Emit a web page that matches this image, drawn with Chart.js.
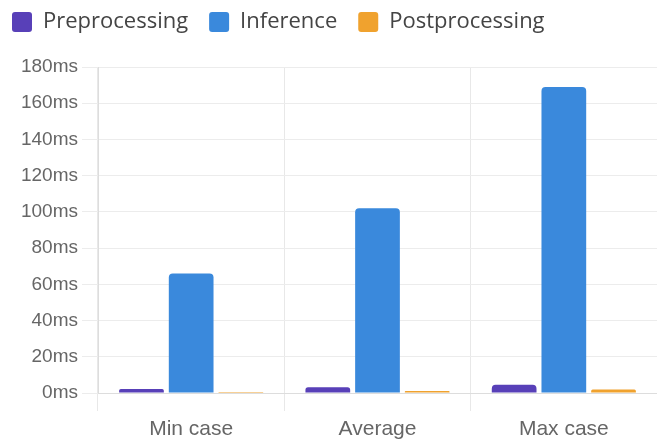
<!DOCTYPE html>
<html><head><meta charset="utf-8">
<script src="https://cdn.jsdelivr.net/npm/chart.js@4"></script>
<style>html,body{margin:0;padding:0;background:#fff}#w{width:657px;height:441px}</style>
</head><body><div id="w"><canvas id="c"></canvas></div>
<script>
const categories = ["Min case", "Average", "Max case"];
const preprocessing = [2.2, 3.2, 4.5];
const inference = [66, 102, 169];
const postprocessing = [0.5, 1.1, 2.0];
const yTicks = [0, 20, 40, 60, 80, 100, 120, 140, 160, 180];

const legendMargin = {
  id: 'legendMargin',
  beforeInit(chart) {
    const orig = chart.legend.fit;
    chart.legend.fit = function () { orig.bind(chart.legend)(); this.height += 24; };
  }
};

new Chart(document.getElementById('c'), {
  type: 'bar',
  data: {
    labels: categories,
    datasets: [
      {label: 'Preprocessing', data: preprocessing, backgroundColor: '#5840b8', borderRadius: 4},
      {label: 'Inference', data: inference, backgroundColor: '#3a89dc', borderRadius: 4},
      {label: 'Postprocessing', data: postprocessing, backgroundColor: '#f0a22e', borderRadius: 4}
    ]
  },
  plugins: [legendMargin],
  options: {
    responsive: true, maintainAspectRatio: false, animation: false,
    layout: {padding: {left: -9, right: 0, top: -10, bottom: 0}},
    plugins: {
      legend: {
        align: 'start',
        labels: {
          font: {family: 'Open Sans', size: 22},
          color: '#444',
          boxWidth: 20, boxHeight: 20, useBorderRadius: true, borderRadius: 3,
          padding: 21
        }
      },
      tooltip: {enabled: false}
    },
    scales: {
      x: {
        afterFit: s => { s.height = 48; },
        grid: {color: '#e8e8e8', offset: true, tickLength: 18},
        border: {color: '#ddd'},
        ticks: {font: {family: 'Liberation Sans', size: 21}, color: '#666', padding: 6}
      },
      y: {
        min: 0, max: 180,
        afterFit: s => { s.width = 107; },
        afterBuildTicks: s => { s.ticks = yTicks.map(v => ({value: v})); },
        grid: {color: '#ececec', tickLength: 16},
        border: {color: '#ddd'},
        ticks: {font: {family: 'Liberation Sans', size: 19}, color: '#666', padding: 4,
                callback: v => v + 'ms'}
      }
    }
  }
});
</script></body></html>
